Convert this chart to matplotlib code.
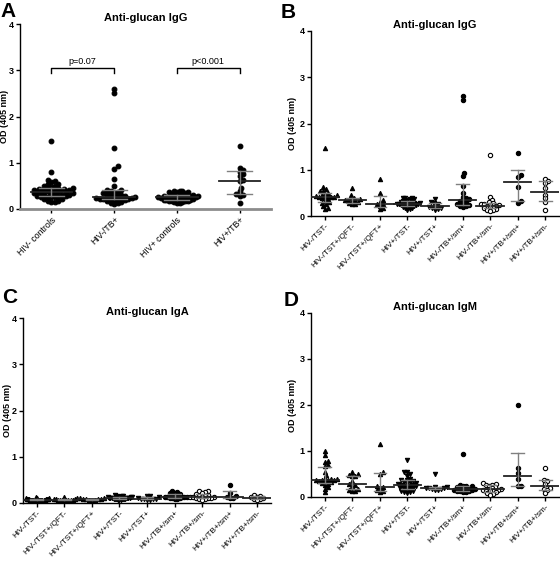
import numpy as np
import matplotlib
matplotlib.use('Agg')
from matplotlib import pyplot as plt

plt.rc('font', family='Liberation Sans')
plt.rc('axes', linewidth=1)

# ---- data: OD (405 nm) per subject ----
groups = ['HIV-/TST-', 'HIV-/TST+/QFT-', 'HIV-/TST+/QFT+', 'HIV+/TST-', 'HIV+/TST+',
          'HIV-/TB+/sm+', 'HIV-/TB+/sm-', 'HIV+/TB+/sm+', 'HIV+/TB+/sm-']
groups_A = ['HIV- controls', 'HIV-/TB+', 'HIV+ controls', 'HIV+/TB+']
# which subgroups of `groups` make up each group of panel A
members_A = [[0, 1, 2], [5, 6], [3, 4], [7, 8]]
pvalues_A = ['p=0.07', 'p<0.001']

igg = [
    [1.47, 0.62, 0.58, 0.55, 0.54, 0.50, 0.48, 0.46, 0.45, 0.44, 0.43, 0.42,
     0.42, 0.41, 0.40, 0.38, 0.36, 0.33, 0.30, 0.28, 0.25, 0.22, 0.18, 0.16],
    [0.60, 0.45, 0.40, 0.38, 0.36, 0.35, 0.34, 0.33, 0.32, 0.30, 0.28, 0.26, 0.25],
    [0.81, 0.50, 0.35, 0.30, 0.27, 0.25, 0.22, 0.17, 0.15],
    [0.40, 0.39, 0.38, 0.37, 0.36, 0.35, 0.33, 0.32, 0.31, 0.30, 0.29, 0.28, 0.28, 0.27, 0.27,
     0.26, 0.26, 0.25, 0.25, 0.24, 0.24, 0.23, 0.22, 0.21, 0.20, 0.19, 0.18, 0.17, 0.15, 0.13],
    [0.36, 0.30, 0.28, 0.25, 0.22, 0.20, 0.18, 0.17, 0.15, 0.14],
    [2.60, 2.50, 0.93, 0.87, 0.64, 0.50, 0.42, 0.38, 0.36, 0.35, 0.33, 0.31, 0.28, 0.25,
     0.24, 0.22, 0.21, 0.20],
    [1.32, 0.42, 0.35, 0.30, 0.28, 0.26, 0.25, 0.24, 0.23, 0.22, 0.21, 0.20, 0.18, 0.17,
     0.15, 0.13, 0.12, 0.10],
    [1.37, 0.88, 0.85, 0.62, 0.33, 0.28],
    [0.80, 0.76, 0.72, 0.60, 0.45, 0.38, 0.30, 0.13],
]

iga = [
    [0.12, 0.11, 0.10, 0.10, 0.09, 0.09, 0.08, 0.08, 0.08, 0.08, 0.07, 0.07,
     0.07, 0.07, 0.07, 0.07, 0.06, 0.06, 0.06, 0.06, 0.06, 0.05, 0.05, 0.05],
    [0.12, 0.10, 0.09, 0.08, 0.08, 0.07, 0.07, 0.07, 0.07, 0.06, 0.06, 0.06, 0.05],
    [0.11, 0.10, 0.09, 0.09, 0.08, 0.08, 0.07, 0.07, 0.06],
    [0.17, 0.16, 0.16, 0.15, 0.14, 0.14, 0.13, 0.13, 0.12, 0.12, 0.12, 0.11, 0.11, 0.11, 0.11,
     0.10, 0.10, 0.10, 0.10, 0.09, 0.09, 0.09, 0.09, 0.08, 0.08, 0.08, 0.08, 0.07, 0.07, 0.07],
    [0.16, 0.15, 0.12, 0.10, 0.09, 0.09, 0.08, 0.08, 0.07, 0.07],
    [0.25, 0.23, 0.22, 0.21, 0.20, 0.18, 0.16, 0.15, 0.14, 0.13, 0.13, 0.12, 0.12, 0.11,
     0.10, 0.10, 0.09, 0.08],
    [0.27, 0.25, 0.24, 0.22, 0.20, 0.18, 0.16, 0.15, 0.14, 0.13, 0.13, 0.12, 0.11, 0.10,
     0.10, 0.09, 0.08, 0.07],
    [0.40, 0.22, 0.15, 0.13, 0.11, 0.10],
    [0.17, 0.16, 0.14, 0.12, 0.11, 0.09, 0.08, 0.07],
]

igm = [
    [1.00, 0.92, 0.78, 0.76, 0.70, 0.68, 0.55, 0.48, 0.42, 0.40, 0.39, 0.38,
     0.38, 0.37, 0.36, 0.35, 0.34, 0.33, 0.31, 0.29, 0.27, 0.22, 0.18, 0.10],
    [0.55, 0.50, 0.47, 0.46, 0.45, 0.35, 0.28, 0.26, 0.24, 0.18, 0.15, 0.14, 0.13],
    [1.15, 0.55, 0.50, 0.25, 0.22, 0.20, 0.15, 0.12, 0.10],
    [0.80, 0.55, 0.55, 0.50, 0.45, 0.40, 0.38, 0.36, 0.35, 0.33, 0.32, 0.30, 0.30, 0.28, 0.27,
     0.26, 0.25, 0.24, 0.23, 0.22, 0.20, 0.19, 0.18, 0.17, 0.15, 0.14, 0.12, 0.11, 0.10, 0.08],
    [0.50, 0.22, 0.21, 0.20, 0.20, 0.19, 0.18, 0.17, 0.16, 0.15],
    [0.93, 0.26, 0.25, 0.24, 0.23, 0.22, 0.20, 0.19, 0.18, 0.18, 0.17, 0.16, 0.15, 0.14,
     0.13, 0.12, 0.11, 0.10],
    [0.30, 0.28, 0.27, 0.26, 0.25, 0.22, 0.20, 0.18, 0.17, 0.16, 0.15, 0.14, 0.13, 0.12,
     0.10, 0.08, 0.06, 0.05],
    [2.00, 0.62, 0.52, 0.40, 0.25, 0.23],
    [0.64, 0.38, 0.34, 0.28, 0.20, 0.18, 0.15, 0.09],
]

# marker per subgroup: (marker, filled)
markers = [('^', True), ('^', True), ('^', True), ('v', True), ('v', True),
           ('o', True), ('o', False), ('o', True), ('o', False)]


def swarm(ax, x, vals, gap, maxw):
    # spread points sideways so they do not sit on top of each other (in pixels)
    tr = ax.transData
    ypx = tr.transform(np.column_stack([np.full(len(vals), x), vals]))[:, 1]
    xscale = tr.transform((1, 0))[0] - tr.transform((0, 0))[0]
    offs = np.zeros(len(vals))
    placed = []
    for i in np.argsort(ypx):
        for k in range(200):
            cand = (k + 1) // 2 * gap * 0.5 * (1 if k % 2 else -1)
            if all((cand - px) ** 2 + (ypx[i] - py) ** 2 >= gap ** 2 for px, py in placed):
                break
        placed.append((cand, ypx[i]))
        offs[i] = cand
    offs = offs / xscale
    # squeeze very wide swarms, prism style (points may overlap)
    if np.abs(offs).max() > maxw:
        offs *= maxw / np.abs(offs).max()
    return offs


def draw_group(ax, x, vals, marker, filled, ms, hw_med, hw_cap, gap, maxw):
    vals = np.asarray(vals)
    off = swarm(ax, x, vals, gap, maxw)
    ax.plot(x + off, vals, ls='none', marker=marker, ms=ms,
            mfc='black' if filled else 'white', mec='black', mew=0.8, zorder=3)
    q1, med, q3 = np.percentile(vals, [25, 50, 75], method='weibull')
    ax.plot([x - hw_med, x + hw_med], [med, med], color='#222222', lw=1.3, zorder=4)
    for q in (q1, q3):
        ax.plot([x - hw_cap, x + hw_cap], [q, q], color='#808080', lw=1, zorder=4)
    ax.plot([x, x], [q1, q3], color='#808080', lw=1, zorder=4)


def setup_axes(ax, labels, title, xfs, label_px, bottom_color='black', bottom_lw=1):
    n = len(labels)
    ax.set_xlim(-0.5, n - 0.5)
    ax.set_ylim(0, 4)
    ax.spines['top'].set_visible(False)
    ax.spines['right'].set_visible(False)
    ax.spines['bottom'].set_color(bottom_color)
    ax.spines['bottom'].set_linewidth(bottom_lw)
    ax.set_yticks(range(5))
    ax.set_yticklabels([str(v) for v in range(5)], fontweight='bold', fontsize=6.5)
    ax.set_xticks(range(n))
    ax.set_xticklabels(labels, rotation=45, ha='right', rotation_mode='anchor', fontsize=xfs)
    ax.tick_params(axis='both', length=3, width=1, pad=1.5)
    ax.set_ylabel('OD (405 nm)', fontweight='bold', fontsize=6.5)
    # label_px: distance (pixels) from the y axis to the right edge of its label
    ax.yaxis.set_label_coords(-label_px / (ax.get_position().width * W), 0.5)
    ax.set_title(title, fontweight='bold', fontsize=8, pad=2.5)


W, H = 560, 562
fig = plt.figure(figsize=(W / 100, H / 100), dpi=100)


def add_axes(left, top, right, bottom):
    return fig.add_axes([left / W, 1 - bottom / H, (right - left) / W, (bottom - top) / H])


axA = add_axes(20, 24, 271, 209)
axB = add_axes(311, 31, 559, 216)
axC = add_axes(23, 318, 271, 503)
axD = add_axes(311, 313, 559, 497)

# panel A: pooled groups, all filled circles
setup_axes(axA, groups_A, 'Anti-glucan IgG', 6.3, 10.5, bottom_color='#8c8c8c', bottom_lw=2)
for i, mem in enumerate(members_A):
    vals = sum([igg[m] for m in mem], [])
    draw_group(axA, i, vals, 'o', True, 3.4, 0.33, 0.2, 3.6, 0.34)

# significance brackets
for (x0, x1), p in zip([(0, 1), (2, 3)], pvalues_A):
    axA.plot([x0, x0, x1, x1], [2.95, 3.05, 3.05, 2.95], color='black', lw=1)
    axA.text((x0 + x1) / 2, 3.1, p, ha='center', va='bottom', fontsize=6.5)

for ax, data, title in [(axB, igg, 'Anti-glucan IgG'), (axC, iga, 'Anti-glucan IgA'),
                        (axD, igm, 'Anti-glucan IgM')]:
    setup_axes(ax, groups, title, 5.9, 10.5 if ax is axC else 14)
    for i, vals in enumerate(data):
        mk, filled = markers[i]
        draw_group(ax, i, vals, mk, filled, 3.1, 0.5, 0.23, 3.0, 0.45)

for letter, x, y in [('A', 0, 2), ('B', 281, 3), ('C', 2, 288), ('D', 284, 291)]:
    fig.text(x / W, 1 - y / H, letter, fontsize=15, fontweight='bold', ha='left', va='top')

fig.savefig('out.png', dpi=100)
plt.close()
